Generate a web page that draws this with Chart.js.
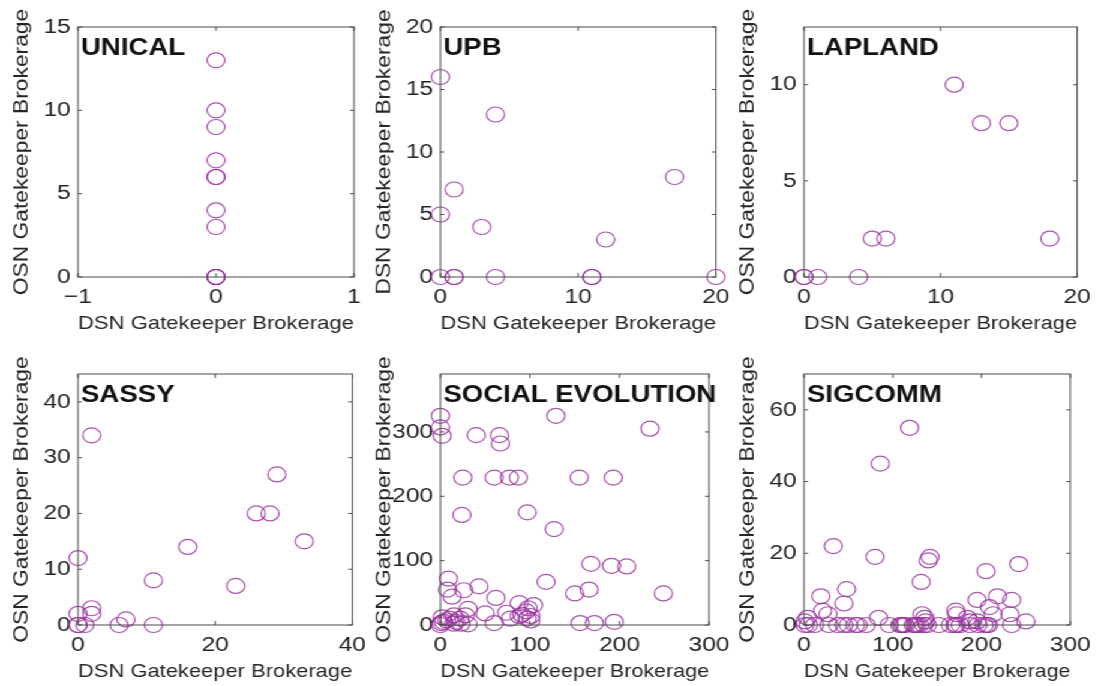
<!DOCTYPE html>
<html>
<head>
<meta charset="utf-8">
<script src="https://cdn.jsdelivr.net/npm/chart.js@4.4.1/dist/chart.umd.min.js"></script>
<style>
html, body { margin: 0; padding: 0; background: #fff; overflow: hidden; }
#fig { position: absolute; left: 0; top: 0; width: 921px; height: 686px; transform: scaleX(1.2); transform-origin: 0 0; }
#fig canvas { position: absolute; }
</style>
</head>
<body>
<div id="fig"></div>
<script>
// datos (DSN en x, OSN en y)
const unicalX = [0, 0, 0, 0, 0, 0, 0, 0, 0, 0, 0];
const unicalY = [13, 10, 9, 7, 6, 6, 4, 3, 0, 0, 0];

const upbX = [0, 4, 1, 0, 3, 17, 12, 0, 1, 1, 4, 11, 11, 20];
const upbY = [16, 13, 7, 5, 4, 8, 3, 0, 0, 0, 0, 0, 0, 0];

const laplandX = [0, 0, 1, 4, 5, 6, 11, 13, 15, 18];
const laplandY = [0, 0, 0, 0, 2, 2, 10, 8, 8, 2];

const sassyX = [2, 29, 26, 28, 33, 16, 0, 11, 23, 2, 2, 0, 0, 0, 1, 6, 7, 11];
const sassyY = [34, 27, 20, 20, 15, 14, 12, 8, 7, 3, 2, 2, 0, 0, 0, 0, 1, 0];

const socialX = [0, 0, 2, 129, 234, 40, 66, 67, 25, 60, 77, 87, 155, 193, 24, 97, 127,
  168, 191, 208, 118, 9, 8, 13, 26, 43, 62, 150, 166, 249, 156, 172, 194,
  88, 104, 98, 74, 78, 50, 31, 28, 22, 60, 31, 15, 15, 2, 1, 7, 91, 96, 101, 101, 97, 88, 0, 3, 17, 23, 10];
const socialY = [325, 307, 294, 325, 305, 295, 295, 282, 229, 229, 229, 229, 229, 229, 171, 175, 149,
  95, 92, 91, 67, 72, 55, 44, 54, 60, 42, 49, 55, 49, 3, 3, 5,
  34, 31, 26, 19, 10, 18, 25, 15, 10, 3, 1, 15, 2, 12, 3, 7, 16, 21, 14, 7, 10, 14, 0, 5, 5, 2, 10];

const sigcommX = [119, 86, 33, 80, 142, 140, 132, 205, 242, 48, 45, 19, 21, 27, 195, 218, 234, 209, 213, 232,
  84, 133, 136, 171, 172, 184, 195, 250, 4, 1, 137, 187,
  1, 5, 12, 28, 38, 45, 50, 58, 61, 70, 96, 108, 110, 112, 114, 123, 125, 127, 130, 135, 139, 152, 165,
  170, 172, 176, 187, 196, 203, 206, 208, 234];
const sigcommY = [55, 45, 22, 19, 19, 18, 12, 15, 17, 10, 6, 8, 4, 3, 7, 8, 7, 5, 3, 3,
  2, 3, 2, 4, 3, 2, 1, 1, 2, 1, 1, 1,
  0, 0, 0, 0, 0, 0, 0, 0, 0, 0, 0, 0, 0, 0, 0, 0, 0, 0, 0, 0, 0, 0, 0,
  0, 0, 0, 0, 0, 0, 0, 0, 0];

// marcas de los ejes
const ticksUnicalX = [-1, 0, 1];
const ticksUnicalY = [0, 5, 10, 15];
const ticksUpbX = [0, 10, 20];
const ticksUpbY = [0, 5, 10, 15, 20];
const ticksLaplandX = [0, 10, 20];
const ticksLaplandY = [0, 5, 10];
const ticksSassyX = [0, 20, 40];
const ticksSassyY = [0, 10, 20, 30, 40];
const ticksSocialX = [0, 100, 200, 300];
const ticksSocialY = [0, 100, 200, 300];
const ticksSigcommX = [0, 100, 200, 300];
const ticksSigcommY = [0, 20, 40, 60];

const S = 1.2;          // la figura original esta estirada en horizontal
const AXW = 65, AXH = 62, PADT = 27, PADR = 18;
const FONT = '"Liberation Sans", Arial, Helvetica, sans-serif';
const MARK = 'rgba(150, 40, 155, 0.8)';
const TXT = '#262626';

const panels = [
  { title: 'UNICAL', yTitle: 'OSN Gatekeeper Brokerage', x: unicalX, y: unicalY, xr: [-1, 1], yr: [0, 15], xt: ticksUnicalX, yt: ticksUnicalY, rect: [78, 27, 354, 277] },
  { title: 'UPB', yTitle: 'DSN Gatekeeper Brokerage', x: upbX, y: upbY, xr: [0, 20], yr: [0, 20], xt: ticksUpbX, yt: ticksUpbY, rect: [440, 27, 717, 277] },
  { title: 'LAPLAND', yTitle: 'OSN Gatekeeper Brokerage', x: laplandX, y: laplandY, xr: [0, 20], yr: [0, 13], xt: ticksLaplandX, yt: ticksLaplandY, rect: [804, 27, 1079, 277] },
  { title: 'SASSY', yTitle: 'OSN Gatekeeper Brokerage', x: sassyX, y: sassyY, xr: [0, 40], yr: [0, 45], xt: ticksSassyX, yt: ticksSassyY, rect: [78, 374, 354, 625] },
  { title: 'SOCIAL EVOLUTION', yTitle: 'OSN Gatekeeper Brokerage', x: socialX, y: socialY, xr: [0, 300], yr: [0, 390], xt: ticksSocialX, yt: ticksSocialY, rect: [440, 374, 717, 625] },
  { title: 'SIGCOMM', yTitle: 'OSN Gatekeeper Brokerage', x: sigcommX, y: sigcommY, xr: [0, 300], yr: [0, 70], xt: ticksSigcommX, yt: ticksSigcommY, rect: [804, 374, 1079, 625] }
];

// caja estilo matlab con marcas hacia dentro, nombre del panel y titulo vertical
const framePlugin = {
  id: 'frame',
  afterDatasetsDraw(chart, args, opts) {
    const { ctx, chartArea: a, scales } = chart;
    const t = 4;
    ctx.save();
    ctx.strokeStyle = '#4a4a4a';
    ctx.lineWidth = 1;
    ctx.strokeRect(a.left, a.top, a.right - a.left, a.bottom - a.top);
    ctx.beginPath();
    scales.x.ticks.forEach(tk => {
      const px = scales.x.getPixelForValue(tk.value);
      ctx.moveTo(px, a.bottom); ctx.lineTo(px, a.bottom - t);
      ctx.moveTo(px, a.top); ctx.lineTo(px, a.top + t);
    });
    scales.y.ticks.forEach(tk => {
      const py = scales.y.getPixelForValue(tk.value);
      ctx.moveTo(a.left, py); ctx.lineTo(a.left + t / S, py);
      ctx.moveTo(a.right, py); ctx.lineTo(a.right - t / S, py);
    });
    ctx.stroke();
    ctx.fillStyle = '#111';
    ctx.font = 'bold 23px ' + FONT;
    ctx.textBaseline = 'alphabetic';
    ctx.fillText(opts.text, a.left + 2.5, a.top + 28);
    ctx.restore();

    // el texto vertical no debe salir ensanchado por el estiramiento
    ctx.save();
    ctx.translate(a.left - 46.2, (a.top + a.bottom) / 2);
    ctx.rotate(-Math.PI / 2);
    ctx.scale(S, 1 / S);
    ctx.font = '19px ' + FONT;
    ctx.fillStyle = TXT;
    ctx.textAlign = 'center';
    ctx.textBaseline = 'middle';
    ctx.fillText(opts.yTitle, 0, 0);
    ctx.restore();
  }
};

const fig = document.getElementById('fig');

panels.forEach(p => {
  const cv = document.createElement('canvas');
  const [L, T, R, B] = p.rect;
  cv.width = Math.round((R - L) / S + AXW + PADR);
  cv.height = Math.round((B - T) + PADT + AXH);
  cv.style.left = (L / S - AXW) + 'px';
  cv.style.top = (T - PADT) + 'px';
  fig.appendChild(cv);

  new Chart(cv, {
    type: 'scatter',
    data: {
      datasets: [{
        data: p.x.map((v, i) => ({ x: v, y: p.y[i] })),
        pointStyle: 'circle',
        pointRadius: 7.5,
        pointHoverRadius: 7.5,
        pointBorderWidth: 1.2,
        pointBorderColor: MARK,
        pointBackgroundColor: 'rgba(0,0,0,0)',
        clip: false
      }]
    },
    options: {
      responsive: false,
      animation: false,
      devicePixelRatio: 1,
      layout: { padding: { top: PADT, right: cv.width - AXW - (R - L) / S, left: 0, bottom: 0 } },
      plugins: {
        legend: { display: false },
        tooltip: { enabled: false },
        frame: { text: p.title, yTitle: p.yTitle }
      },
      scales: {
        x: {
          type: 'linear',
          min: p.xr[0], max: p.xr[1],
          afterBuildTicks: s => { s.ticks = p.xt.map(v => ({ value: v })); },
          afterFit: s => { s.height = AXH; },
          grid: { display: false, drawTicks: false },
          border: { display: false },
          ticks: {
            padding: 8, color: TXT, maxRotation: 0, autoSkip: false,
            font: { family: FONT, size: 20.5 },
            callback: v => v < 0 ? '\u2212' + (-v) : String(v)
          },
          title: {
            display: true, text: 'DSN Gatekeeper Brokerage', color: TXT,
            font: { family: FONT, size: 19 }, padding: { top: 0, bottom: 4 }
          }
        },
        y: {
          type: 'linear',
          min: p.yr[0], max: p.yr[1],
          afterBuildTicks: s => { s.ticks = p.yt.map(v => ({ value: v })); },
          afterFit: s => { s.width = AXW; },
          grid: { display: false, drawTicks: false },
          border: { display: false },
          ticks: {
            padding: 6, color: TXT, autoSkip: false,
            font: { family: FONT, size: 20.5 }
          },
          title: { display: false }
        }
      }
    },
    plugins: [framePlugin]
  });
});
</script>
</body>
</html>
